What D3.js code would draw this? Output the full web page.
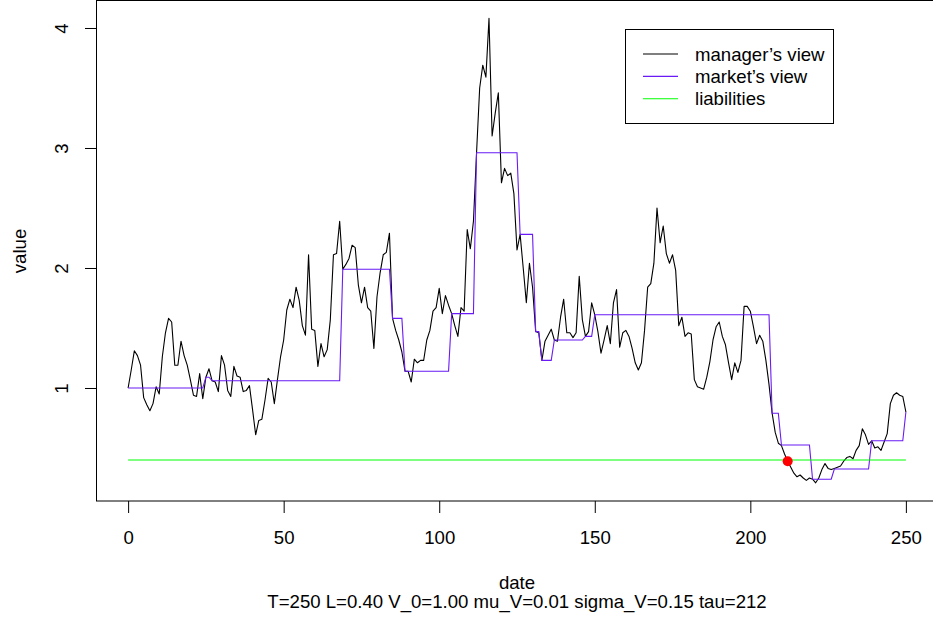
<!DOCTYPE html>
<html>
<head>
<meta charset="utf-8">
<script src="https://cdn.jsdelivr.net/npm/d3@7/dist/d3.min.js"></script>
<style>
  body { margin: 0; background: #fff; }
  text { font-family: "Liberation Sans", Arial, Helvetica, sans-serif; font-size: 18.6px; fill: #000; }
</style>
</head>
<body>
<svg id="chart" width="933" height="625"></svg>
<script>
// manager's view of the asset value, one value per date 0..250
var managerView = [
  1.00, 1.15, 1.31, 1.27, 1.19, 0.92, 0.86, 0.81, 0.87, 1.01,
  0.95, 1.26, 1.46, 1.58, 1.55, 1.19, 1.19, 1.39, 1.27, 1.19,
  1.07, 0.94, 0.93, 1.12, 0.91, 1.09, 1.16, 1.06, 1.05, 0.97,
  1.27, 1.19, 0.98, 0.93, 1.18, 1.10, 1.09, 0.97, 0.98, 1.02,
  0.82, 0.61, 0.73, 0.74, 0.90, 1.08, 1.05, 0.87, 1.07, 1.26,
  1.40, 1.65, 1.74, 1.67, 1.84, 1.73, 1.52, 1.44, 2.11, 1.49,
  1.48, 1.18, 1.37, 1.26, 1.32, 1.57, 2.11, 2.12, 2.39, 1.99,
  2.03, 2.08, 2.19, 2.17, 1.86, 1.71, 1.84, 1.67, 1.64, 1.33,
  1.76, 1.96, 2.11, 2.13, 2.29, 1.58, 1.48, 1.40, 1.30, 1.14,
  1.14, 1.05, 1.24, 1.21, 1.23, 1.23, 1.40, 1.48, 1.64, 1.67,
  1.83, 1.62, 1.77, 1.69, 1.62, 1.52, 1.43, 1.67, 1.64, 2.32,
  2.16, 2.39, 2.96, 3.50, 3.69, 3.59, 4.08, 3.10, 3.29, 3.46,
  2.71, 2.83, 2.77, 2.79, 2.62, 2.15, 2.28, 2.00, 1.71, 2.04,
  1.84, 1.47, 1.46, 1.23, 1.39, 1.44, 1.49, 1.40, 1.39, 1.59,
  1.74, 1.46, 1.46, 1.42, 1.46, 1.93, 1.57, 1.43, 1.47, 1.71,
  1.61, 1.47, 1.29, 1.40, 1.52, 1.37, 1.71, 1.82, 1.34, 1.46,
  1.48, 1.43, 1.33, 1.21, 1.15, 1.21, 1.48, 1.84, 1.87, 2.04,
  2.50, 2.21, 2.35, 2.12, 2.04, 2.11, 1.98, 1.52, 1.59, 1.43,
  1.46, 1.45, 1.07, 1.01, 1.00, 0.99, 1.09, 1.22, 1.40, 1.51,
  1.55, 1.43, 1.36, 1.21, 1.07, 1.21, 1.13, 1.23, 1.68, 1.68,
  1.64, 1.51, 1.37, 1.44, 1.39, 1.23, 1.03, 0.79, 0.63, 0.54,
  0.52, 0.45, 0.39, 0.34, 0.29, 0.26, 0.275, 0.25, 0.23, 0.25,
  0.24, 0.21, 0.25, 0.32, 0.37, 0.33, 0.32, 0.33, 0.34, 0.35,
  0.39, 0.42, 0.43, 0.41, 0.48, 0.52, 0.66, 0.61, 0.53, 0.56,
  0.50, 0.51, 0.48, 0.55, 0.62, 0.87, 0.94, 0.96, 0.94, 0.93,
  0.80
];

// market's view: revised only on these dates, held flat in between
var marketDates  = [0, 25, 27, 69, 85, 89, 104, 112, 126, 131, 133, 137, 147, 150, 207, 210, 220, 227, 239, 250];
var marketValues = [1.00, 1.09, 1.06, 1.99, 1.58, 1.14, 1.62, 2.96, 2.28, 1.47, 1.23, 1.40, 1.43, 1.61, 0.79, 0.525, 0.24, 0.325, 0.56, 0.80];

var liability = 0.40;
var tau = 212;

var xTicks = [0, 50, 100, 150, 200, 250];
var yTicks = [1, 2, 3, 4];
var legendLabels = ["manager\u2019s view", "market\u2019s view", "liabilities"];
var legendColors = ["#000000", "#6a1bf5", "#00ff00"];
var subtitle = "T=250 L=0.40 V_0=1.00 mu_V=0.01 sigma_V=0.15 tau=212";

// one row per date
var data = managerView.map(function(v, i) {
    var k = d3.bisectRight(marketDates, i) - 1;
    return { date: i, manager: v, market: marketValues[k] };
});

var svg = d3.select("#chart");

var x = d3.scaleLinear()
    .domain([-10, 260])
    .range([97, 937]);

var y = d3.scaleLinear()
    .domain([0.0583, 4.2333])
    .range([501, 0]);

var line = function(key) {
    return d3.line()
        .x(function(d) { return x(d.date); })
        .y(function(d) { return y(d[key]); });
};

// manager's view
svg.append("path")
    .datum(data)
    .attr("d", line("manager"))
    .attr("fill", "none")
    .attr("stroke", legendColors[0])
    .attr("stroke-width", 1.1)
    .attr("stroke-linejoin", "round");

// market's view
svg.append("path")
    .datum(data)
    .attr("d", line("market"))
    .attr("fill", "none")
    .attr("stroke", legendColors[1])
    .attr("stroke-width", 1.1);

// liabilities
svg.append("line")
    .attr("x1", x(0)).attr("x2", x(250))
    .attr("y1", y(liability)).attr("y2", y(liability))
    .attr("stroke", legendColors[2])
    .attr("stroke-width", 1.1);

// default time
svg.append("circle")
    .attr("cx", x(tau))
    .attr("cy", y(managerView[tau]))
    .attr("r", 5)
    .attr("fill", "#ff0000");

// frame
svg.append("rect")
    .attr("x", 96.5).attr("y", 0.5)
    .attr("width", 841).attr("height", 500.5)
    .attr("fill", "none")
    .attr("stroke", "#000")
    .attr("stroke-width", 1);

// x axis
var xAxis = svg.append("g")
    .attr("transform", "translate(0,501)")
    .call(d3.axisBottom(x).tickValues(xTicks).tickSize(12).tickSizeOuter(0).tickPadding(18));
xAxis.select(".domain").remove();
xAxis.selectAll("line").attr("stroke", "#000");
xAxis.selectAll("text")
    .style("font-family", "'Liberation Sans', Arial, sans-serif")
    .style("font-size", "18.6px");

// y axis, labels turned like R's
var yAxis = svg.append("g")
    .attr("transform", "translate(97,0)")
    .call(d3.axisLeft(y).tickValues(yTicks).tickSize(12).tickSizeOuter(0).tickFormat(d3.format("d")));
yAxis.select(".domain").remove();
yAxis.selectAll("line").attr("stroke", "#000");
yAxis.selectAll("text")
    .attr("x", null).attr("dy", null)
    .attr("transform", "translate(-29,0) rotate(-90)")
    .attr("text-anchor", "middle")
    .style("font-family", "'Liberation Sans', Arial, sans-serif")
    .style("font-size", "18.6px");

// axis titles
svg.append("text")
    .attr("x", 517).attr("y", 589)
    .attr("text-anchor", "middle")
    .text("date");

svg.append("text")
    .attr("x", 517).attr("y", 608)
    .attr("text-anchor", "middle")
    .text(subtitle);

svg.append("text")
    .attr("transform", "translate(26,251) rotate(-90)")
    .attr("text-anchor", "middle")
    .text("value");

// legend
var legend = svg.append("g");
legend.append("rect")
    .attr("x", 625.5).attr("y", 29.5)
    .attr("width", 208).attr("height", 94)
    .attr("fill", "#fff")
    .attr("stroke", "#000");

var rows = legend.selectAll("g.row")
    .data(legendLabels)
  .enter().append("g")
    .attr("class", "row")
    .attr("transform", function(d, i) { return "translate(0," + (54 + i * 22.4) + ")"; });

rows.append("line")
    .attr("x1", 643).attr("x2", 678)
    .attr("stroke", function(d, i) { return legendColors[i]; })
    .attr("stroke-width", 1.1);

rows.append("text")
    .attr("x", 695)
    .attr("dy", "0.35em")
    .text(function(d) { return d; });
</script>
</body>
</html>
